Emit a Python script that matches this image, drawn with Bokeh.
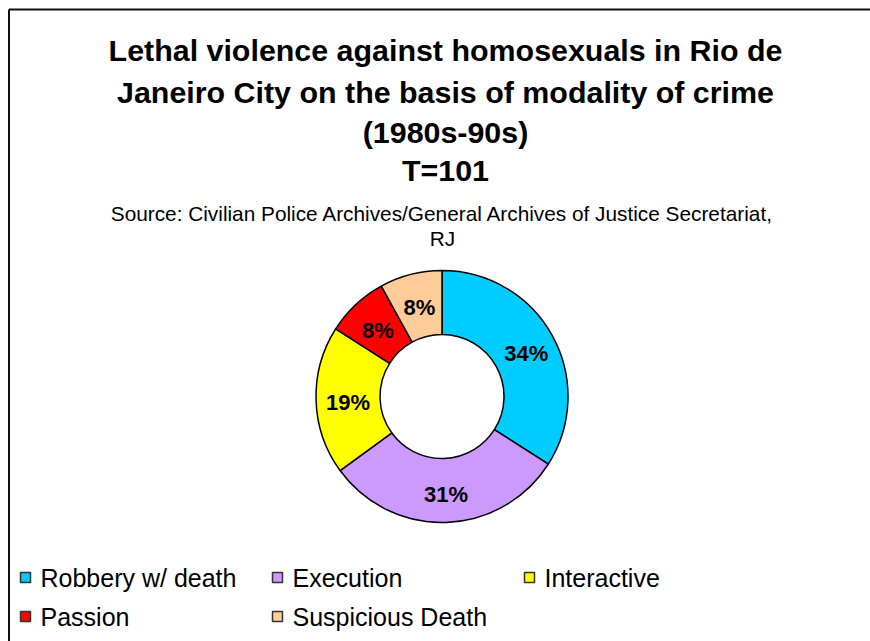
import math
from bokeh.plotting import figure
from bokeh.models import ColumnDataSource, Range1d
from bokeh.core.properties import value
from bokeh.embed import file_html
from bokeh.resources import INLINE

# ---- data ----
categories = ["Robbery w/ death", "Execution", "Interactive", "Passion", "Suspicious Death"]
percents = [34, 31, 19, 8, 8]
colors = ["#00CCFF", "#CC99FF", "#FFFF00", "#FF0000", "#FFCC99"]
title_lines = [
    "Lethal violence against homosexuals in Rio de",
    "Janeiro City on the basis of modality of crime",
    "(1980s-90s)",
    "T=101",
]
source_lines = [
    "Source: Civilian Police Archives/General Archives of Justice Secretariat,",
    "RJ",
]

W, H = 870, 641
FONT = "Liberation Sans"


def X(px):
    return px


def Y(py):
    return H - py


p = figure(width=W, height=H, output_backend="svg", toolbar_location=None,
           x_range=Range1d(0, W), y_range=Range1d(0, H), min_border=0)
p.axis.visible = False
p.grid.visible = False
p.outline_line_color = None
p.background_fill_color = "white"
p.border_fill_color = "white"

# chart-area frame (only its top and left edges fall inside the window)
p.segment(x0=[X(8.5), X(8.5)], y0=[Y(9), Y(9)], x1=[X(8.5), X(W + 10)],
          y1=[Y(H + 10), Y(9)], line_color="#111111", line_width=2)

# ---- donut ----
cx, cy = X(441.5), Y(396)
r_in, r_out = 62, 126
total = sum(percents)
starts, ends, mids = [], [], []
acc = 0
for v in percents:
    a0 = math.pi / 2 - 2 * math.pi * acc / total
    acc += v
    a1 = math.pi / 2 - 2 * math.pi * acc / total
    starts.append(a0)
    ends.append(a1)
    mids.append((a0 + a1) / 2)

src = ColumnDataSource(dict(start=starts, end=ends, color=colors))
p.annular_wedge(x=cx, y=cy, inner_radius=r_in, outer_radius=r_out,
                start_angle="start", end_angle="end", direction="clock",
                fill_color="color", line_color="black", line_width=1.5, source=src)

r_lab = 95
lab_dy = -3  # labels sit slightly below the ring's mid-radius
lab = ColumnDataSource(dict(
    x=[cx + 1 + r_lab * math.cos(m) for m in mids],
    y=[cy + lab_dy + r_lab * math.sin(m) for m in mids],
    t=["%d%%" % v for v in percents],
))
p.text(x="x", y="y", text="t", source=lab, text_font=value(FONT),
       text_font_style="bold", text_font_size="22px", text_color="black",
       text_align="center", text_baseline="middle")

# ---- titles ----
tx = X(445)
title_base = [49.5, 91, 131, 169]
p.text(x=[tx] * len(title_lines), y=[Y(b) for b in title_base], text=title_lines,
       text_font=value(FONT), text_font_style="bold", text_font_size="30.4px",
       text_color="black", text_align="center", text_baseline="alphabetic")

source_base = [213, 238]
p.text(x=[X(442)] * len(source_lines), y=[Y(b) for b in source_base], text=source_lines,
       text_font=value(FONT), text_font_size="20.8px", text_color="black",
       text_align="center", text_baseline="alphabetic")

# ---- legend ----
col_text_x = [40, 292, 544]
row_text = [577, 616]
row_square = [577, 616]
sq_x, sq_y, tx_l, ty_l = [], [], [], []
for i, name in enumerate(categories):
    r, c = divmod(i, 3)
    sq_x.append(X(col_text_x[c] - 15))
    sq_y.append(Y(row_square[r]))
    tx_l.append(X(col_text_x[c]))
    ty_l.append(Y(row_text[r]))
p.rect(x=sq_x, y=sq_y, width=10, height=10, fill_color=colors,
       line_color="#333333", line_width=1.5)
p.text(x=tx_l, y=ty_l, text=categories, text_font=value(FONT),
       text_font_size="25px", text_color="black", text_align="left",
       text_baseline="alphabetic")

open("out.html", "w").write(file_html(p, INLINE))
